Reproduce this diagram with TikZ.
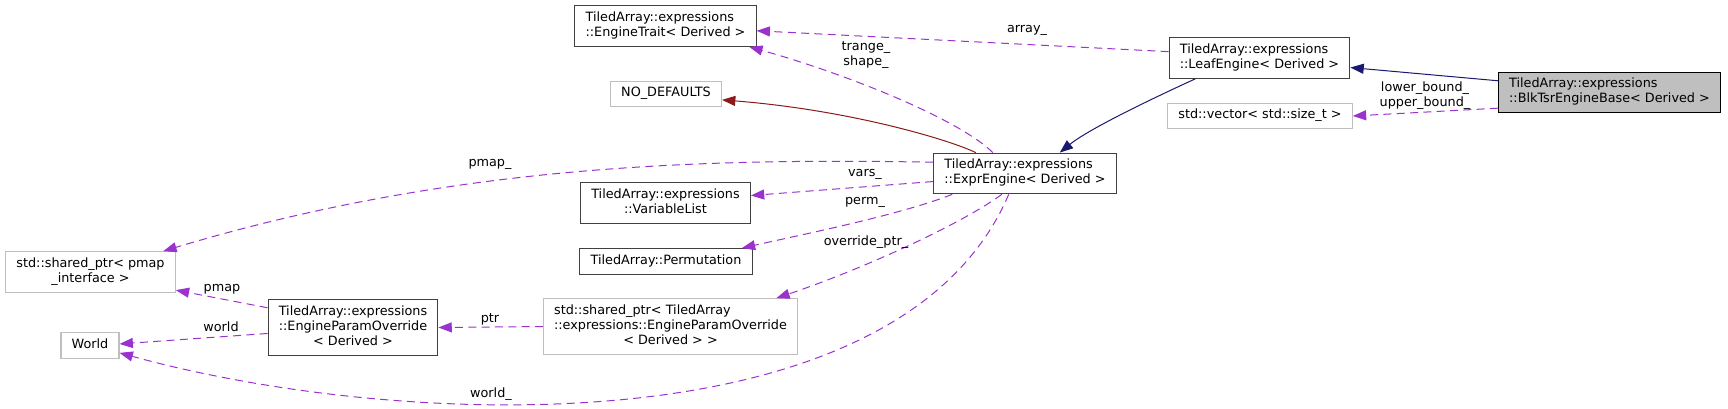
\documentclass[tikz,border=0pt]{standalone}
\usepackage{fontspec}
\setmainfont{DejaVu Sans}
\usetikzlibrary{arrows.meta}

\definecolor{edgep}{HTML}{9A32CD}
\definecolor{navyc}{HTML}{191970}
\definecolor{redc}{HTML}{8B1A1A}
\definecolor{greyc}{HTML}{BFBFBF}

\newcommand{\nlab}[1]{\begin{tabular}{@{}l@{}}#1\end{tabular}}
\newcommand{\ctr}[1]{\multicolumn{1}{@{}c@{}}{#1}}

\begin{document}
\begin{tikzpicture}[x=0.75pt,y=-0.75pt,font=\fontsize{9.6}{11.25}\selectfont,
  cls/.style={draw=black!75,line width=0.8pt,fill=white,inner xsep=8pt,inner ysep=4pt},
  ext/.style={cls,draw=greyc},
  cur/.style={cls,draw=black,fill=greyc},
  lbl/.style={inner sep=0pt},
  dep/.style={draw=edgep,line width=0.75pt,dash pattern=on 6pt off 4pt,-{Triangle[length=10pt,width=7.5pt]}},
  inh/.style={draw=navyc,line width=0.75pt,-{Triangle[length=10pt,width=7.5pt]}},
  targ/.style={draw=redc,line width=0.75pt,-{Triangle[length=10pt,width=7.5pt]}}]
\useasboundingbox (0,0) rectangle (1728,409);

% classes
\node[cls] (trait) at (665.5,26) {\nlab{TiledArray::expressions\\\ctr{::EngineTrait< Derived >}}};
\node[ext] (nodef) at (666,94) {\nlab{NO\_DEFAULTS}};
\node[cls] (leaf) at (1259.5,58) {\nlab{TiledArray::expressions\\\ctr{::LeafEngine< Derived >}}};
\node[cur] (blk) at (1609.5,92.5) {\nlab{TiledArray::expressions\\\ctr{::BlkTsrEngineBase< Derived >}}};
\node[ext] (vec) at (1260,116) {\nlab{std::vector< std::size\_t >}};
\node[cls] (expr) at (1025,173.5) {\nlab{TiledArray::expressions\\\ctr{::ExprEngine< Derived >}}};
\node[cls] (varl) at (665.5,203) {\nlab{TiledArray::expressions\\\ctr{::VariableList}}};
\node[cls] (perm) at (666,261.5) {\nlab{TiledArray::Permutation}};
\node[ext] (sptr) at (670.5,326.5) {\nlab{std::shared\_ptr< TiledArray\\::expressions::EngineParamOverride\\\ctr{< Derived > >}}};
\node[ext] (pmap) at (90.5,272) {\nlab{std::shared\_ptr< pmap\\\ctr{\_interface >}}};
\node[ext] (world) at (90,345.5) {\nlab{World}};
\node[cls] (epo) at (353,327.5) {\nlab{TiledArray::expressions\\::EngineParamOverride\\\ctr{< Derived >}}};

% inheritance and template edges
\draw[inh] (blk.174) -- (leaf.354);
\draw[inh] (leaf.198) .. controls (1160,95) and (1090,128) .. (expr.31);
\draw[targ] (expr.157) .. controls (950,140) and (850,110) .. (nodef.354);

% usage edges
\draw[dep] (expr.147) .. controls (960,120) and (850,75) .. (trait.346);
\draw[dep] (leaf.176) -- (trait.357);
\draw[dep] (blk.188) -- (vec.east);
\draw[dep] (expr.173) .. controls (700,158) and (450,165) .. (pmap.16);
\draw[dep] (expr.185) -- (varl.5);
\draw[dep] (expr.196) .. controls (900,215) and (800,235) .. (perm.10);
\draw[dep] (expr.222) .. controls (960,225) and (860,270) .. (sptr.15);
\draw[dep] (expr.232) .. controls (900,450) and (400,430) .. (world.346);
\draw[dep] (epo.167) -- (pmap.348);
\draw[dep] (epo.184) -- (world.3);
\draw[dep] (sptr.west) -- (epo.east);

% edge labels
\node[lbl,align=center] (ltrange) at (866,55) {trange\_\\shape\_};
\node[lbl] (larray) at (1027,30) {array\_};
\node[lbl,align=center] (lbound) at (1425,96) {lower\_bound\_\\upper\_bound\_};
\node[lbl] (lpmapu) at (490,164) {pmap\_};
\node[lbl] (lvars) at (865,174) {vars\_};
\node[lbl] (lperm) at (865,202) {perm\_};
\node[lbl] (lovr) at (866,242) {override\_ptr\_};
\node[lbl] (lworldu) at (491,394) {world\_};
\node[lbl] (lpmap) at (222,289) {pmap};
\node[lbl] (lworld) at (221,327) {world};
\node[lbl] (lptr) at (490,319) {ptr};

\end{tikzpicture}
\end{document}
